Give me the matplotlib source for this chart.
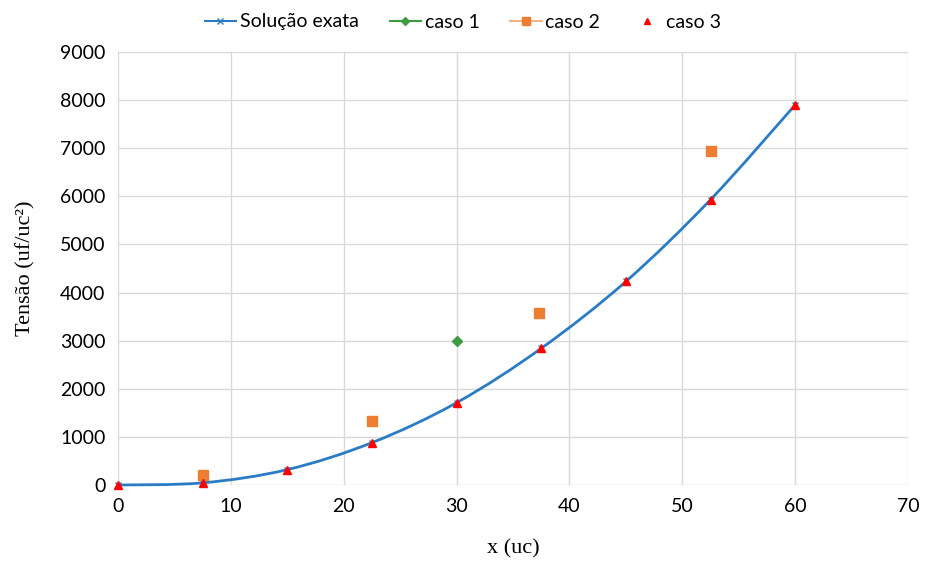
import matplotlib
matplotlib.use("Agg")
import matplotlib.pyplot as plt
import numpy as np
from matplotlib.lines import Line2D
from matplotlib.path import Path
from matplotlib.patches import PathPatch

# ---------------------------------------------------------------------------
# Data
# ---------------------------------------------------------------------------
x_exact = [0, 7.5, 15, 22.5, 30, 37.5, 45, 52.5, 60]
y_exact = [0, 45, 320, 880, 1710, 2840, 4230, 5930, 7900]

x_caso1 = [30]
y_caso1 = [3000]

x_caso2 = [7.5, 22.5, 37.3, 52.5]
y_caso2 = [210, 1330, 3580, 6950]

x_caso3 = [0, 7.5, 15, 22.5, 30, 37.5, 45, 52.5, 60]
y_caso3 = [0, 45, 320, 880, 1710, 2840, 4230, 5930, 7900]

X_TICKS = [0, 10, 20, 30, 40, 50, 60, 70]
Y_TICKS = [0, 1000, 2000, 3000, 4000, 5000, 6000, 7000, 8000, 9000]

BLUE = "#2a7cc7"
GREEN = "#3e9b3e"
ORANGE = "#ed7d31"
RED = "#ff0000"
GRID = "#d9d9d9"

TICK_FONT = "Lato"
AXIS_FONT = "Liberation Serif"


def smooth_path(xs, ys):
    """Excel-style smoothed line: cubic Bezier segments through the points."""
    p = np.column_stack([xs, ys]).astype(float)
    n = len(p)
    verts = [p[0]]
    codes = [Path.MOVETO]
    for i in range(n - 1):
        prev = p[i - 1] if i > 0 else p[i]
        nxt = p[i + 2] if i + 2 < n else p[i + 1]
        c1 = p[i] + (p[i + 1] - prev) / 6.0
        c2 = p[i + 1] - (nxt - p[i]) / 6.0
        verts += [c1, c2, p[i + 1]]
        codes += [Path.CURVE4] * 3
    return Path(verts, codes)


fig = plt.figure(figsize=(9.26, 5.62), dpi=100)
W, H = 926, 562
ax = fig.add_axes([118 / W, (H - 485) / H, (908 - 118) / W, (485 - 52) / H])

ax.add_patch(PathPatch(smooth_path(x_exact, y_exact), facecolor="none",
                       edgecolor=BLUE, lw=2.0, zorder=3, clip_on=False))
ax.plot(x_exact, y_exact, ls="none", color=BLUE, marker="x", ms=5,
        mew=1.0, zorder=3, clip_on=False)
ax.plot(x_caso1, y_caso1, ls="none", marker="D", ms=5, color=GREEN, zorder=4)
ax.plot(x_caso2, y_caso2, ls="none", marker="s", ms=7, color=ORANGE, zorder=4)
ax.plot(x_caso3, y_caso3, ls="none", marker="^", ms=6, color=RED, zorder=5,
        clip_on=False)

ax.set_xlim(0, 70)
ax.set_ylim(0, 9000)
ax.set_xticks(X_TICKS)
ax.set_yticks(Y_TICKS)
ax.set_xticklabels([str(t) for t in X_TICKS], fontsize=14, family=TICK_FONT)
ax.set_yticklabels([str(t) for t in Y_TICKS], fontsize=14, family=TICK_FONT)
ax.tick_params(length=0, pad=9)
ax.grid(True, color=GRID, lw=1.0)
ax.set_axisbelow(True)
for s in ax.spines.values():
    s.set_visible(False)

ax.set_xlabel("x (uc)", fontsize=16, family=AXIS_FONT, labelpad=18)
ax.set_ylabel("Tensão (uf/uc²)", fontsize=16, family=AXIS_FONT, labelpad=18)

handles = [
    Line2D([], [], color=BLUE, lw=1.5, marker="x", ms=5, label="Solução exata"),
    Line2D([], [], color=GREEN, lw=1.5, marker="D", ms=4, label="caso 1"),
    Line2D([], [], color="#f4b183", lw=1.5, marker="s", ms=6,
           mfc=ORANGE, mec=ORANGE, label="caso 2"),
    Line2D([], [], ls="none", marker="^", ms=5, color=RED, label="caso 3"),
]
fig.legend(handles=handles, loc="center", bbox_to_anchor=(0.5, 1 - 22 / H),
           ncol=4, frameon=False, prop={"family": TICK_FONT, "size": 14},
           handlelength=1.6, handletextpad=0.2, columnspacing=1.6)

fig.savefig("out.png", dpi=100)
